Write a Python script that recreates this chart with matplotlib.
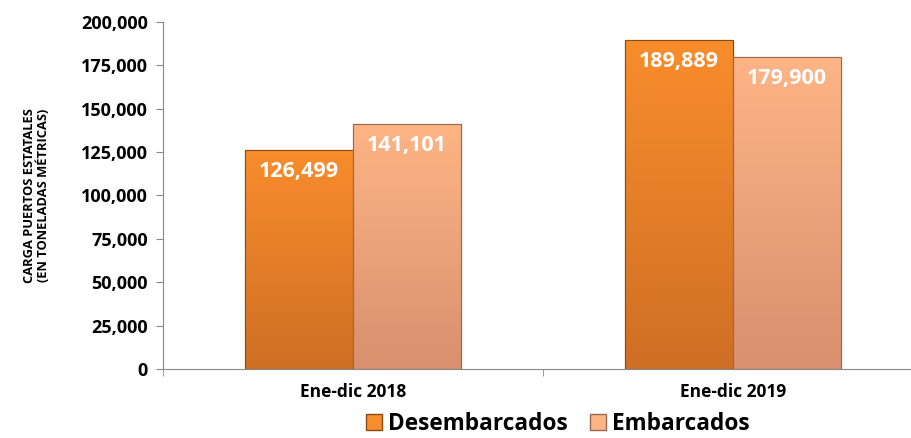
import numpy as np
import matplotlib.pyplot as plt
from matplotlib.patches import Patch
from matplotlib.ticker import FuncFormatter, FixedLocator
from matplotlib.colors import LinearSegmentedColormap

plt.rcParams['font.family'] = ['Open Sans', 'DejaVu Sans']
plt.rcParams['font.weight'] = 'bold'

# data
categories = ["Ene-dic 2018", "Ene-dic 2019"]
series_names = ["Desembarcados", "Embarcados"]
desembarcados = [126499, 189889]
embarcados = [141101, 179900]
yticks = [0, 25000, 50000, 75000, 100000, 125000, 150000, 175000, 200000]

# colours: (top, bottom) of the gradient
top_cols = ["#F98D2C", "#FDB586"]
bot_cols = ["#CF6F24", "#D8906E"]
edge_cols = ["#8A4A18", "#9A6A50"]

fig = plt.figure(figsize=(9.12, 4.38), dpi=100)
ax = fig.add_axes([163 / 912, 1 - 369 / 438, 1 - 163 / 912, 347 / 438])

x = np.arange(len(categories))
w = 0.283
all_vals = [desembarcados, embarcados]
for k, vals in enumerate(all_vals):
    offs = (k - 0.5) * w
    bars = ax.bar(x + offs, vals, w, color=top_cols[k], edgecolor=edge_cols[k],
                  linewidth=0.8, zorder=2)
    cmap = LinearSegmentedColormap.from_list("g%d" % k, [bot_cols[k], top_cols[k]])
    for b, v in zip(bars, vals):
        x0, x1 = b.get_x(), b.get_x() + b.get_width()
        grad = np.linspace(0, 1, 256).reshape(-1, 1)
        im = ax.imshow(grad, cmap=cmap, origin='lower', aspect='auto',
                       extent=[x0, x1, 0, v], zorder=2.5)
        im.set_clip_path(b)
        ax.bar(b.get_x() + b.get_width() / 2, v, w, fill=False,
               edgecolor=edge_cols[k], linewidth=0.8, zorder=3)
        ax.annotate(f"{v:,}", (b.get_x() + b.get_width() / 2, v),
                    xytext=(0, -8), textcoords='offset points',
                    ha='center', va='top', color='white',
                    fontsize=15.5, fontweight='bold', zorder=4)

ax.set_xlim(-0.5, 1.5 - 11 / 380)
ax.set_ylim(0, 200000)
ax.set_yticks(yticks)
ax.yaxis.set_major_formatter(FuncFormatter(lambda v, p: f"{int(v):,}"))
ax.tick_params(axis='y', labelsize=13, length=5, color='#888888', pad=6)

ax.set_xticks(x)
ax.set_xticklabels(categories, fontsize=12.5, fontweight='bold')
ax.tick_params(axis='x', length=0, pad=10)
ax.xaxis.set_minor_locator(FixedLocator([-0.5, 0.5, 1.5]))
ax.tick_params(axis='x', which='minor', length=5, color='#888888')

for s in ['top', 'right']:
    ax.spines[s].set_visible(False)
for s in ['left', 'bottom']:
    ax.spines[s].set_color('#888888')

ax.set_ylabel("CARGA PUERTOS ESTATALES\n(EN TONELADAS MÉTRICAS)",
              fontsize=9.3, fontweight='bold', labelpad=22, linespacing=1.05)

handles = [Patch(facecolor=top_cols[i], edgecolor=edge_cols[i], label=series_names[i])
           for i in range(2)]
fig.legend(handles=handles, loc='center', bbox_to_anchor=(558 / 912, 1 - 424 / 438),
           ncol=2, frameon=False, prop={'size': 16.3, 'weight': 'bold'},
           handlelength=0.7, handleheight=0.7, handletextpad=0.25, columnspacing=1.0)

fig.savefig("out.png", dpi=100)
